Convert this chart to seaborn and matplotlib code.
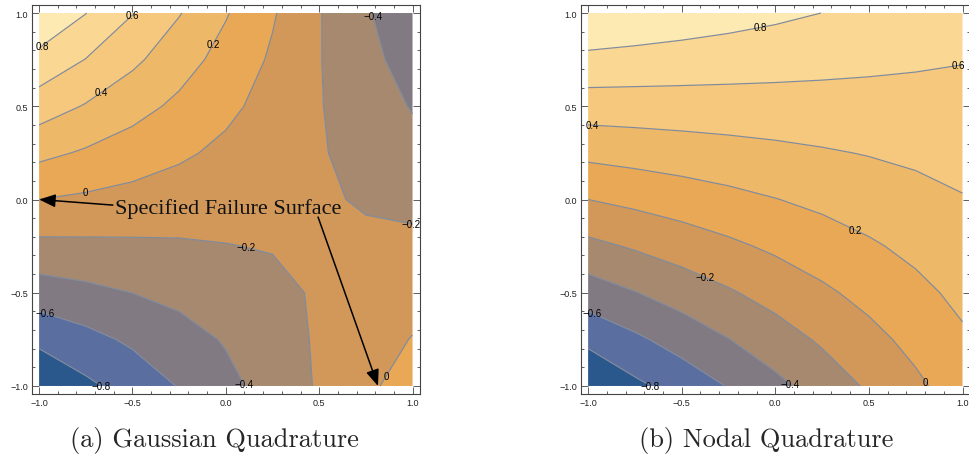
import numpy as np
import seaborn as sns
import matplotlib.pyplot as plt
from matplotlib.ticker import MultipleLocator, FuncFormatter

# ------------------------------------------------
# Data: surface values on a 9x9 grid
# rows = y from -1 to 1, columns = x from -1 to 1
# ------------------------------------------------
grid_x = [-1.0, -0.75, -0.5, -0.25, 0.0, 0.25, 0.5, 0.75, 1.0]
grid_y = [-1.0, -0.75, -0.5, -0.25, 0.0, 0.25, 0.5, 0.75, 1.0]

gauss_z = [
    [-1.0, -0.84, -0.72, -0.59, -0.455, -0.32, -0.18, -0.035, 0.08],
    [-0.75, -0.659, -0.567, -0.476, -0.384, -0.293, -0.175, -0.11, 0.01],
    [-0.5, -0.45, -0.399, -0.349, -0.299, -0.248, -0.178, -0.148, -0.098],
    [-0.25, -0.241, -0.232, -0.222, -0.205, -0.19, -0.15, -0.17, -0.16],
    [0.0, -0.032, -0.064, -0.096, -0.128, -0.159, -0.18, -0.215, -0.245],
    [0.25, 0.177, 0.104, 0.031, -0.042, -0.115, -0.185, -0.261, -0.334],
    [0.5, 0.386, 0.272, 0.158, 0.044, -0.07, -0.19, -0.298, -0.413],
    [0.74, 0.595, 0.44, 0.285, 0.129, -0.026, -0.192, -0.336, -0.491],
    [0.98, 0.804, 0.607, 0.411, 0.215, 0.019, -0.19, -0.374, -0.57],
]

nodal_z = [
    [-1.0, -0.84, -0.72, -0.59, -0.45, -0.312, -0.175, -0.038, 0.1],
    [-0.75, -0.635, -0.519, -0.404, -0.289, -0.173, -0.058, 0.057, 0.173],
    [-0.5, -0.407, -0.314, -0.221, -0.128, -0.034, 0.059, 0.152, 0.245],
    [-0.25, -0.179, -0.108, -0.037, 0.034, 0.105, 0.176, 0.246, 0.318],
    [0.0, 0.049, 0.098, 0.146, 0.195, 0.244, 0.293, 0.341, 0.39],
    [0.25, 0.277, 0.303, 0.33, 0.356, 0.383, 0.409, 0.436, 0.463],
    [0.5, 0.504, 0.509, 0.513, 0.518, 0.522, 0.526, 0.531, 0.535],
    [0.75, 0.732, 0.714, 0.697, 0.679, 0.661, 0.643, 0.625, 0.608],
    [1.0, 0.96, 0.92, 0.88, 0.84, 0.799, 0.76, 0.72, 0.68],
]

line_levels = [-0.8, -0.6, -0.4, -0.2, 0.0, 0.2, 0.4, 0.6, 0.8]
band_colors = ["#2b588c", "#5a6ea0", "#827a83", "#a6896f", "#d2985a",
               "#e8a855", "#eeb869", "#f5c87d", "#fad792", "#fde9b2"]

captions = ["(a) Gaussian Quadrature", "(b) Nodal Quadrature"]
note_text = "Specified Failure Surface"

# label anchor points (x, y) for the contour labels
gauss_label_pos = [(-0.50, 0.99), (-0.98, 0.82), (-0.66, 0.57), (-0.08, 0.84),
                   (-0.75, 0.03), (0.77, 0.98), (0.99, -0.13), (0.11, -0.25),
                   (-0.97, -0.61), (-0.64, -0.99), (0.09, -0.99), (0.85, -0.94)]
nodal_label_pos = [(-0.08, 0.92), (0.98, 0.72), (-0.98, 0.39), (0.43, -0.16),
                   (-0.37, -0.41), (-0.98, -0.61), (-0.64, -0.99), (0.08, -0.99),
                   (0.80, -0.98)]

# ------------------------------------------------
# Style
# ------------------------------------------------
sns.set_theme(style="white")
plt.rcParams['font.family'] = ['Liberation Sans', 'DejaVu Sans']
palette = sns.color_palette(band_colors)

W, H = 969, 456
fig = plt.figure(figsize=(W / 100, H / 100), dpi=100)


def px_axes(l, t, r, b):
    return fig.add_axes([l / W, 1 - b / H, (r - l) / W, (b - t) / H])


def minus(s):
    return s.replace('-', '\u2212')


def tick_fmt(v, pos):
    if abs(v) < 1e-9:
        v = 0.0
    return minus(f"{v:.1f}")


def level_fmt(v):
    v = round(v, 1)
    if abs(v) < 1e-9:
        return "0"
    return minus(f"{v:g}")


def contour_panel(ax, z, label_pos):
    X, Y = np.meshgrid(grid_x, grid_y)
    Z = np.array(z)
    levels = [-2.0] + line_levels + [2.0]
    ax.contourf(X, Y, Z, levels=levels, colors=palette, antialiased=True)
    cs = ax.contour(X, Y, Z, levels=line_levels, colors="#7f8a9c",
                    linewidths=0.85, linestyles="solid")
    labels = ax.clabel(cs, manual=label_pos, inline=False, fontsize=7,
                       fmt=level_fmt, colors="black")
    for t in labels:
        t.set_rotation(0)

    ax.set_xlim(-1.038, 1.04)
    ax.set_ylim(-1.043, 1.043)
    ax.set_facecolor("white")
    for s in ax.spines.values():
        s.set_color("#444444")
        s.set_linewidth(0.8)
    ax.xaxis.set_major_locator(MultipleLocator(0.5))
    ax.yaxis.set_major_locator(MultipleLocator(0.5))
    ax.xaxis.set_minor_locator(MultipleLocator(0.1))
    ax.yaxis.set_minor_locator(MultipleLocator(0.1))
    ax.xaxis.set_major_formatter(FuncFormatter(tick_fmt))
    ax.yaxis.set_major_formatter(FuncFormatter(tick_fmt))
    ax.tick_params(which="both", direction="in", top=True, right=True,
                   bottom=True, left=True, color="#444444", width=0.6,
                   labelsize=6.5, labelcolor="#222222", pad=3)
    ax.tick_params(which="major", length=5)
    ax.tick_params(which="minor", length=2.5)


# ------------------------------------------------
# Panels
# ------------------------------------------------
ax1 = px_axes(32, 6, 420, 395)
ax2 = px_axes(581, 6, 970, 395)

contour_panel(ax1, gauss_z, gauss_label_pos)
contour_panel(ax2, nodal_z, nodal_label_pos)

# annotation on the Gaussian panel
ax1.text(-0.593, -0.074, note_text, family="Liberation Serif", fontsize=16,
         ha="left", va="baseline", color="#111111")
arrow = dict(arrowstyle="-|>,head_length=0.55,head_width=0.22", color="black",
             lw=1.1, shrinkA=0, shrinkB=0, mutation_scale=18)
ax1.annotate("", xy=(-1.0, 0.0), xytext=(-0.605, -0.03), arrowprops=arrow)
ax1.annotate("", xy=(0.815, -1.0), xytext=(0.494, -0.094), arrowprops=arrow)

# captions
fig.text(214 / W, 1 - 441 / H, captions[0], family="cmr10", fontsize=19,
         ha="center", va="center")
fig.text(766 / W, 1 - 441 / H, captions[1], family="cmr10", fontsize=19,
         ha="center", va="center")

fig.savefig("out.png", dpi=100)
